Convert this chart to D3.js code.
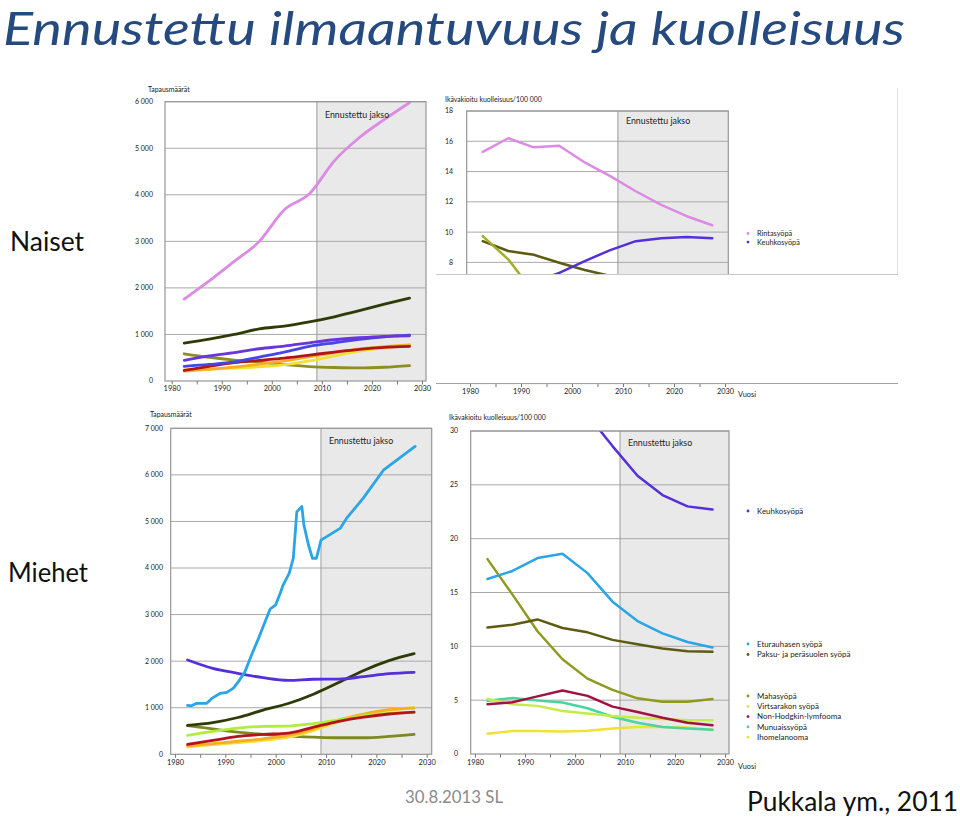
<!DOCTYPE html>
<html><head><meta charset="utf-8">
<script src="https://cdn.jsdelivr.net/npm/d3@7"></script>
<style>
html,body{margin:0;padding:0;background:#fff;}
svg text{font-family:Lato,"Open Sans",sans-serif;}
</style></head>
<body>
<svg id="c" width="960" height="819"></svg>
<script>
// ---------------- DATA ----------------
const years = [1982.5, 1987.5, 1992.5, 1997.5, 2002.5, 2007.5, 2012.5, 2017.5, 2022.5, 2027.5];
const forecastStart = 2009;
const xTicks = [1980, 1985, 1990, 1995, 2000, 2005, 2010, 2015, 2020, 2025, 2030];

// Naiset – ilmaantuvuus (tapausmäärät)
const wIncBreast     = [1760, 2150, 2570, 3000, 3680, 4020, 4730, 5230, 5620, 5980];
const wIncColorectal = [815, 900, 1000, 1120, 1180, 1270, 1380, 1510, 1650, 1780];
const wIncLung       = [445, 540, 610, 693, 750, 820, 886, 929, 960, 970];
const wIncBlue       = [314, 355, 410, 514, 620, 743, 821, 893, 950, 985];
const wIncRed        = [229, 314, 393, 443, 493, 557, 621, 679, 721, 743];
const wIncOrange     = [210, 250, 300, 360, 430, 520, 610, 690, 740, 775];
const wIncYellow     = [240, 255, 275, 305, 345, 430, 540, 640, 710, 760];
const wIncStomach    = [585, 510, 450, 405, 350, 310, 290, 280, 295, 330];

// Naiset – kuolleisuus
const wMortBreast     = [15.3, 16.2, 15.6, 15.7, 14.6, 13.7, 12.7, 11.8, 11.05, 10.45];
const wMortLung       = [6.3, 6.5, 6.7, 7.3, 8.09, 8.81, 9.4, 9.6, 9.67, 9.6];
const wMortColorectal = [9.4, 8.75, 8.5, 7.98, 7.5, 7.1, 6.7, 6.3, 6.0, 5.8];
const wMortStomach    = [9.73, 8.2, 6.0, 5.2, 4.5, 4.0, 3.6, 3.3, 3.1, 3.0];

// Miehet – ilmaantuvuus
const mIncProstateYears  = [1982.5, 1983.3, 1984.3, 1986.3, 1987.3, 1989, 1990.3, 1991.6, 1992.6, 1993.9, 1995.2, 1996.6, 1997.5, 1998.9, 2000, 2000.9, 2001.5, 2002.7, 2003.5, 2004.2, 2005.2, 2005.6, 2006.5, 2007.3, 2008.1, 2009, 2012.8, 2014.1, 2017.4, 2021.4, 2027.7];
const mIncProstateValues = [1050, 1040, 1095, 1095, 1200, 1310, 1330, 1420, 1560, 1775, 2130, 2490, 2740, 3120, 3210, 3460, 3640, 3890, 4210, 5210, 5320, 4925, 4500, 4210, 4210, 4600, 4850, 5070, 5500, 6100, 6610];
const mIncLung       = [2026, 1847, 1739, 1646, 1589, 1611, 1615, 1668, 1732, 1761];
const mIncColorectal = [620, 680, 790, 950, 1090, 1290, 1540, 1800, 2010, 2160];
const mIncBladder    = [405, 490, 560, 600, 605, 660, 740, 830, 880, 900];
const mIncRed        = [213, 298, 383, 426, 454, 582, 709, 800, 865, 905];
const mIncOrange     = [180, 230, 280, 333, 404, 546, 738, 865, 957, 993];
const mIncYellow     = [160, 210, 250, 300, 370, 510, 700, 850, 950, 1000];
const mIncStomach    = [617, 546, 475, 426, 390, 369, 355, 355, 383, 426];

// Miehet – kuolleisuus
const mMortLung       = [48, 44, 39, 35, 31.5, 28.6, 25.85, 24.05, 23.0, 22.7];
const mMortProstate   = [16.25, 17.0, 18.2, 18.6, 16.8, 14.15, 12.35, 11.2, 10.4, 9.9];
const mMortColorectal = [11.75, 12.0, 12.5, 11.7, 11.3, 10.6, 10.2, 9.8, 9.55, 9.5];
const mMortStomach    = [18.1, 14.8, 11.4, 8.8, 7.0, 5.95, 5.17, 4.86, 4.86, 5.1];
const mMortBladder    = [5.1, 4.62, 4.47, 4.0, 3.77, 3.52, 3.36, 3.24, 3.14, 3.14];
const mMortNHL        = [4.62, 4.8, 5.35, 5.9, 5.4, 4.4, 3.9, 3.36, 2.9, 2.67];
const mMortKidney     = [4.94, 5.2, 4.97, 4.78, 4.25, 3.46, 2.9, 2.5, 2.36, 2.26];
const mMortMelanoma   = [1.89, 2.14, 2.14, 2.08, 2.17, 2.36, 2.5, 2.5, 2.45, 2.26];

// Legend labels
const wLegend = ["Rintasyöpä", "Keuhkosyöpä"];
const mLegendTop = ["Keuhkosyöpä"];
const mLegendMid = ["Eturauhasen syöpä", "Paksu- ja peräsuolen syöpä"];
const mLegendBot = ["Mahasyöpä", "Virtsarakon syöpä", "Non-Hodgkin-lymfooma", "Munuaissyöpä", "Ihomelanooma"];

// Colours
const C = {
  pink:"#dc8ae4", violet:"#6a34de", blue:"#4446ea", darkGreen:"#2e3b06",
  olive:"#8e8e24", red:"#b3141a", orange:"#f9ad24", yellow:"#f0e136",
  lightGreen:"#b2ec3e", prostate:"#2aa5e6", crimson:"#a3123e", teal:"#48d5a0",
  mOlive:"#7d8a1c", mortOlive:"#8f9a1e", mortDark:"#5d5b12", lung:"#5530d8",
  mortYellowGreen:"#a5ad26"
};

// ---------------- DRAWING ----------------
const svg = d3.select("#c");
const fi = d3.formatLocale({decimal:",", thousands:" ", grouping:[3], currency:["","€"]});
const fmtK = fi.format(",");
let clipId = 0;

function toPts(xs, vs){ return xs.map((y,i)=>({year:y, v:vs[i]})); }

function panel(o){
  const x = d3.scaleLinear().domain([1980, 2030]).range(o.xr);
  const y = d3.scaleLinear().domain([0, o.yMax]).range(o.yr);
  const g = svg.append("g");
  const top = y(o.yMax), bottom = y(0);
  g.append("rect").attr("x", o.fx0).attr("y", top).attr("width", o.fx1-o.fx0).attr("height", bottom-top).attr("fill","#fff");
  g.append("rect").attr("x", x(forecastStart)).attr("y", top).attr("width", o.fx1-x(forecastStart)).attr("height", bottom-top).attr("fill","#e9e9e9");
  const yt = d3.range(0, o.yMax+1e-9, o.yStep);
  g.selectAll(".gl").data(yt.filter(v=>v>0)).join("line")
    .attr("x1", o.fx0).attr("x2", o.fx1).attr("y1", d=>y(d)).attr("y2", d=>y(d))
    .attr("stroke","#a9a9a9").attr("stroke-width",1);
  g.append("line").attr("x1", x(forecastStart)).attr("x2", x(forecastStart)).attr("y1", top).attr("y2", bottom)
    .attr("stroke","#9a9a9a").attr("stroke-width",1);
  const id = "clip"+(clipId++);
  svg.append("clipPath").attr("id", id).append("rect")
    .attr("x", o.fx0).attr("y", top).attr("width", o.fx1-o.fx0).attr("height", bottom-top);
  const lg = g.append("g").attr("clip-path", `url(#${id})`);
  o.series.forEach(s=>{
    const line = d3.line().x(d=>x(d.year)).y(d=>y(d.v)).curve(s.curve || o.curve || d3.curveMonotoneX);
    lg.append("path").datum(toPts(s.x || years, s.v)).attr("d", line)
      .attr("fill","none").attr("stroke", s.c).attr("stroke-width", s.w || o.lw || 2.8)
      .attr("stroke-linejoin","round").attr("stroke-linecap","round");
  });
  g.append("rect").attr("x", o.fx0).attr("y", top).attr("width", o.fx1-o.fx0).attr("height", bottom-top)
    .attr("fill","none").attr("stroke","#979797").attr("stroke-width",1.2);
  const ax = g.append("g").attr("transform", `translate(0,${o.axisY || bottom})`)
    .call(d3.axisBottom(x).tickValues(xTicks).tickSize(3.5).tickSizeOuter(0)
      .tickFormat(d=> d%10===0 ? d : ""));
  ax.select(".domain").remove();
  ax.selectAll("line").attr("stroke","#777");
  ax.selectAll("text").attr("font-size", 7.4).attr("fill","#222").attr("dy", null).attr("y", o.xLabDy || 10.5);
  if (o.vuosi) g.append("text").attr("x", o.vuosi[0]).attr("y", o.vuosi[1]).attr("font-size",7.4).attr("fill","#222").text("Vuosi");
  g.selectAll(".yl").data(yt.filter(v=> o.minLabel==null || v>=o.minLabel)).join("text")
    .attr("x", o.ylx).attr("y", d=>y(d)).attr("dy","0.35em").attr("text-anchor","end")
    .attr("font-size", 7).attr("fill","#222").text(d=> o.fmt ? o.fmt(d) : d);
  g.append("text").attr("x", o.ytitle[0]).attr("y", o.ytitle[1]).attr("font-size", 6.9).attr("fill","#222").text(o.ytitleText);
  g.append("text").attr("x", o.enn[0]).attr("y", o.enn[1]).attr("font-size", 8.8).attr("fill","#222").text("Ennustettu jakso");
  return {x, y, g};
}

// Naiset – ilmaantuvuus
panel({
  fx0:165, fx1:426, xr:[171.7, 422], yr:[381, 101.7], yMax:6000, yStep:1000, fmt:fmtK,
  ylx:153, ytitle:[148, 91.5], ytitleText:"Tapausmäärät", enn:[325, 118], xLabDy:10,
  series:[
    {v:wIncStomach, c:C.olive},
    {v:wIncYellow, c:C.yellow},
    {v:wIncOrange, c:C.orange},
    {v:wIncRed, c:C.red},
    {v:wIncBlue, c:C.blue},
    {v:wIncLung, c:C.violet},
    {v:wIncColorectal, c:C.darkGreen},
    {v:wIncBreast, c:C.pink}
  ]
});

// Naiset – kuolleisuus
panel({
  fx0:466.7, fx1:728.3, xr:[470, 725], yr:[383.5, 111], yMax:18, yStep:2, minLabel:8,
  ylx:453, ytitle:[445, 102], ytitleText:"Ikävakioitu kuolleisuus/100 000", enn:[626, 124],
  curve:d3.curveLinear, lw:2.5, vuosi:[738, 397], xLabDy:10.5,
  series:[
    {v:wMortColorectal, c:C.mortDark},
    {v:wMortStomach, c:C.mortYellowGreen},
    {v:wMortLung, c:C.lung},
    {v:wMortBreast, c:C.pink}
  ]
});
// white overlay that hides the lower half of the mortality chart (as in the slide)
svg.append("rect").attr("x", 436).attr("y", 275).attr("width", 462).attr("height", 108).attr("fill","#fff");
svg.append("line").attr("x1", 436).attr("x2", 898).attr("y1", 274.5).attr("y2", 274.5).attr("stroke","#c9c9c9");
svg.append("line").attr("x1", 436).attr("x2", 898).attr("y1", 383.5).attr("y2", 383.5).attr("stroke","#a0a0a0");
svg.append("line").attr("x1", 897.5).attr("x2", 897.5).attr("y1", 88).attr("y2", 274).attr("stroke","#e2e2e2");

// Naiset legend
const wLegCols = [C.pink, C.lung];
svg.append("g").selectAll("g").data(wLegend).join("g").each(function(d,i){
  const gg = d3.select(this);
  gg.append("circle").attr("cx", 748).attr("cy", 233.5 + i*8.6).attr("r", 1.4).attr("fill", wLegCols[i]);
  gg.append("text").attr("x", 757).attr("y", 233.5 + i*8.6).attr("dy","0.35em").attr("font-size", 7.3).attr("fill","#222").text(d);
});

// Miehet – ilmaantuvuus
panel({
  fx0:170.7, fx1:431.7, xr:[175, 426.7], yr:[754.3, 428.3], yMax:7000, yStep:1000, fmt:fmtK,
  ylx:163, ytitle:[150, 417], ytitleText:"Tapausmäärät", enn:[329, 443.5], xLabDy:11,
  series:[
    {v:mIncStomach, c:C.mOlive},
    {v:mIncYellow, c:C.yellow},
    {v:mIncOrange, c:C.orange},
    {v:mIncBladder, c:C.lightGreen},
    {v:mIncRed, c:C.red},
    {v:mIncColorectal, c:C.darkGreen},
    {v:mIncLung, c:C.lung},
    {x:mIncProstateYears, v:mIncProstateValues, c:C.prostate, curve:d3.curveLinear}
  ]
});

// Miehet – kuolleisuus
panel({
  fx0:470.7, fx1:729, xr:[475, 725], yr:[754, 431], yMax:30, yStep:5,
  ylx:458, ytitle:[449, 420], ytitleText:"Ikävakioitu kuolleisuus/100 000", enn:[628, 445.5],
  curve:d3.curveLinear, lw:2.5, vuosi:[738, 769], xLabDy:11,
  series:[
    {v:mMortMelanoma, c:C.yellow},
    {v:mMortKidney, c:C.teal},
    {v:mMortBladder, c:"#c4ec48"},
    {v:mMortNHL, c:C.crimson},
    {v:mMortStomach, c:C.mortOlive},
    {v:mMortColorectal, c:C.mortDark},
    {v:mMortProstate, c:C.prostate},
    {v:mMortLung, c:C.lung}
  ]
});

// Miehet legend
const mLegItems = [
  ...mLegendTop.map((t,i)=>({t, y:511 + i*10.3, c:C.lung})),
  ...mLegendMid.map((t,i)=>({t, y:644 + i*10.5, c:[C.prostate, C.mortDark][i]})),
  ...mLegendBot.map((t,i)=>({t, y:696 + i*10.3, c:[C.mortOlive, "#c4ec48", C.crimson, C.teal, C.yellow][i]}))
];
svg.append("g").selectAll("g").data(mLegItems).join("g").each(function(d){
  const gg = d3.select(this);
  gg.append("circle").attr("cx", 748).attr("cy", d.y).attr("r", 1.4).attr("fill", d.c);
  gg.append("text").attr("x", 757).attr("y", d.y).attr("dy","0.35em").attr("font-size", 7.9).attr("fill","#222").text(d.t);
});

// ---------------- SLIDE TEXTS ----------------
svg.append("text").attr("x", 3).attr("y", 45).attr("font-size", 46).attr("font-style","italic")
  .attr("fill","#254a7f").attr("textLength", 902).attr("lengthAdjust","spacingAndGlyphs")
  .text("Ennustettu ilmaantuvuus ja kuolleisuus");
svg.append("text").attr("x", 10).attr("y", 251).attr("font-size", 26).attr("fill","#111")
  .attr("textLength", 74).attr("lengthAdjust","spacingAndGlyphs").text("Naiset");
svg.append("text").attr("x", 8).attr("y", 582).attr("font-size", 26).attr("fill","#111")
  .attr("textLength", 80).attr("lengthAdjust","spacingAndGlyphs").text("Miehet");
svg.append("text").attr("x", 405).attr("y", 803).attr("font-size", 17).attr("fill","#8a8a8a")
  .attr("textLength", 98).attr("lengthAdjust","spacingAndGlyphs").text("30.8.2013 SL");
svg.append("text").attr("x", 747).attr("y", 811).attr("font-size", 26).attr("fill","#111")
  .attr("textLength", 211).attr("lengthAdjust","spacingAndGlyphs").text("Pukkala ym., 2011");
</script>
</body></html>
